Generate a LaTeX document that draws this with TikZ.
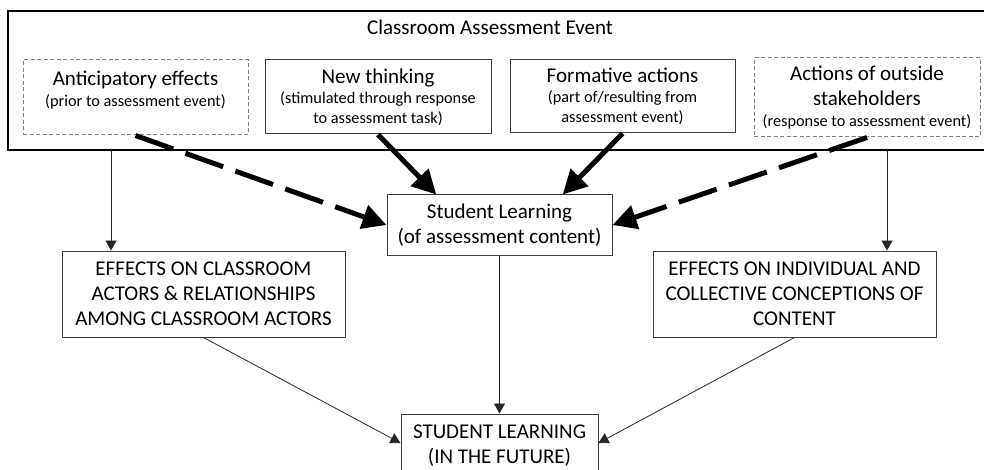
\documentclass[tikz,border=0pt]{standalone}
\usepackage{fontspec}
\setmainfont{Carlito}
\usetikzlibrary{arrows.meta,calc}
\newcommand{\BigTxt}{\fontsize{21}{25}\selectfont}
\tikzset{
 big/.style={font=\fontsize{21}{25}\selectfont},
 sm/.style={font=\fontsize{16.3}{20}\selectfont},
 solidbox/.style={draw=black!75, line width=1pt, inner sep=0pt, align=center},
 dashbox/.style={draw=black!50, line width=1pt, dash pattern=on 4pt off 2.5pt, inner sep=0pt, align=center},
 outerframe/.style={draw=black, line width=1.5pt},
 thinarrow/.style={draw=black!85, line width=0.8pt, -{Triangle[length=10pt,width=11pt]}},
 thickarrow/.style={draw=black, line width=5pt, -{Triangle[length=24pt,width=24pt]}},
 thickdash/.style={thickarrow, dash pattern=on 40pt off 13pt},
}
\begin{document}
\begin{tikzpicture}[x=1pt,y=-1pt]
\clip (0,0) rectangle (984,470);
\fill[white] (0,0) rectangle (984,470);
% outer frame (open at the right edge of the picture)
\draw[outerframe] (990,11) -| (8,150) -- (990,150);
\node[big, anchor=base, inner sep=0pt] (title) at (490,35) {Classroom Assessment Event};

\node[dashbox, minimum width=225pt, minimum height=75pt] (ant) at (135.5,97.5) {};
\node[sm, align=center, inner sep=0pt] (antT) at (135.5,89.6) {{\BigTxt Anticipatory effects}\\[1pt](prior to assessment event)};
\node[solidbox, sm, minimum width=226pt, minimum height=74pt] (new) at (378,97) {{\BigTxt New thinking}\\(stimulated through response\\to assessment task)};
\node[solidbox, sm, minimum width=225pt, minimum height=73pt] (form) at (622.5,96.5) {{\BigTxt Formative actions}\\(part of/resulting from\\assessment event)};
\node[dashbox, sm, minimum width=226pt, minimum height=79pt] (out) at (867,97.5) {{\BigTxt Actions of outside}\\[5pt]{\BigTxt stakeholders}\\[1pt](response to assessment event)};

\node[solidbox, big, minimum width=225pt, minimum height=60pt] (sl) at (499.5,225) {Student Learning\\(of assessment content)};
\node[solidbox, big, minimum width=283pt, minimum height=86pt] (ec) at (203.5,294) {EFFECTS ON CLASSROOM\\ACTORS \& RELATIONSHIPS\\AMONG CLASSROOM ACTORS};
\node[solidbox, big, minimum width=283pt, minimum height=86pt] (ei) at (794.5,294) {EFFECTS ON INDIVIDUAL AND\\COLLECTIVE CONCEPTIONS OF\\CONTENT};
\node[solidbox, big, minimum width=197pt, minimum height=64pt] (fut) at (499.5,446) {STUDENT LEARNING\\(IN THE FUTURE)};

\coordinate (evL) at (111,150);
\coordinate (evR) at (887,150);
\draw[thinarrow] (evL) -- (evL |- ec.north);
\draw[thinarrow] (evR) -- (evR |- ei.north);

\draw[thickarrow] (new.south) -- ($(sl.north west)!0.22!(sl.north east)$);
\draw[thickarrow] (form.south) -- ($(sl.north west)!0.78!(sl.north east)$);
\draw[thickdash] (ant.south) -- (sl.west);
\draw[thickdash] (out.south) -- (sl.east);

\draw[thinarrow] (sl.south) -- (fut.north);
\draw[thinarrow] (ec.south) -- ([yshift=3pt]fut.west);
\draw[thinarrow] (ei.south) -- ([yshift=3pt]fut.east);
\end{tikzpicture}
\end{document}
